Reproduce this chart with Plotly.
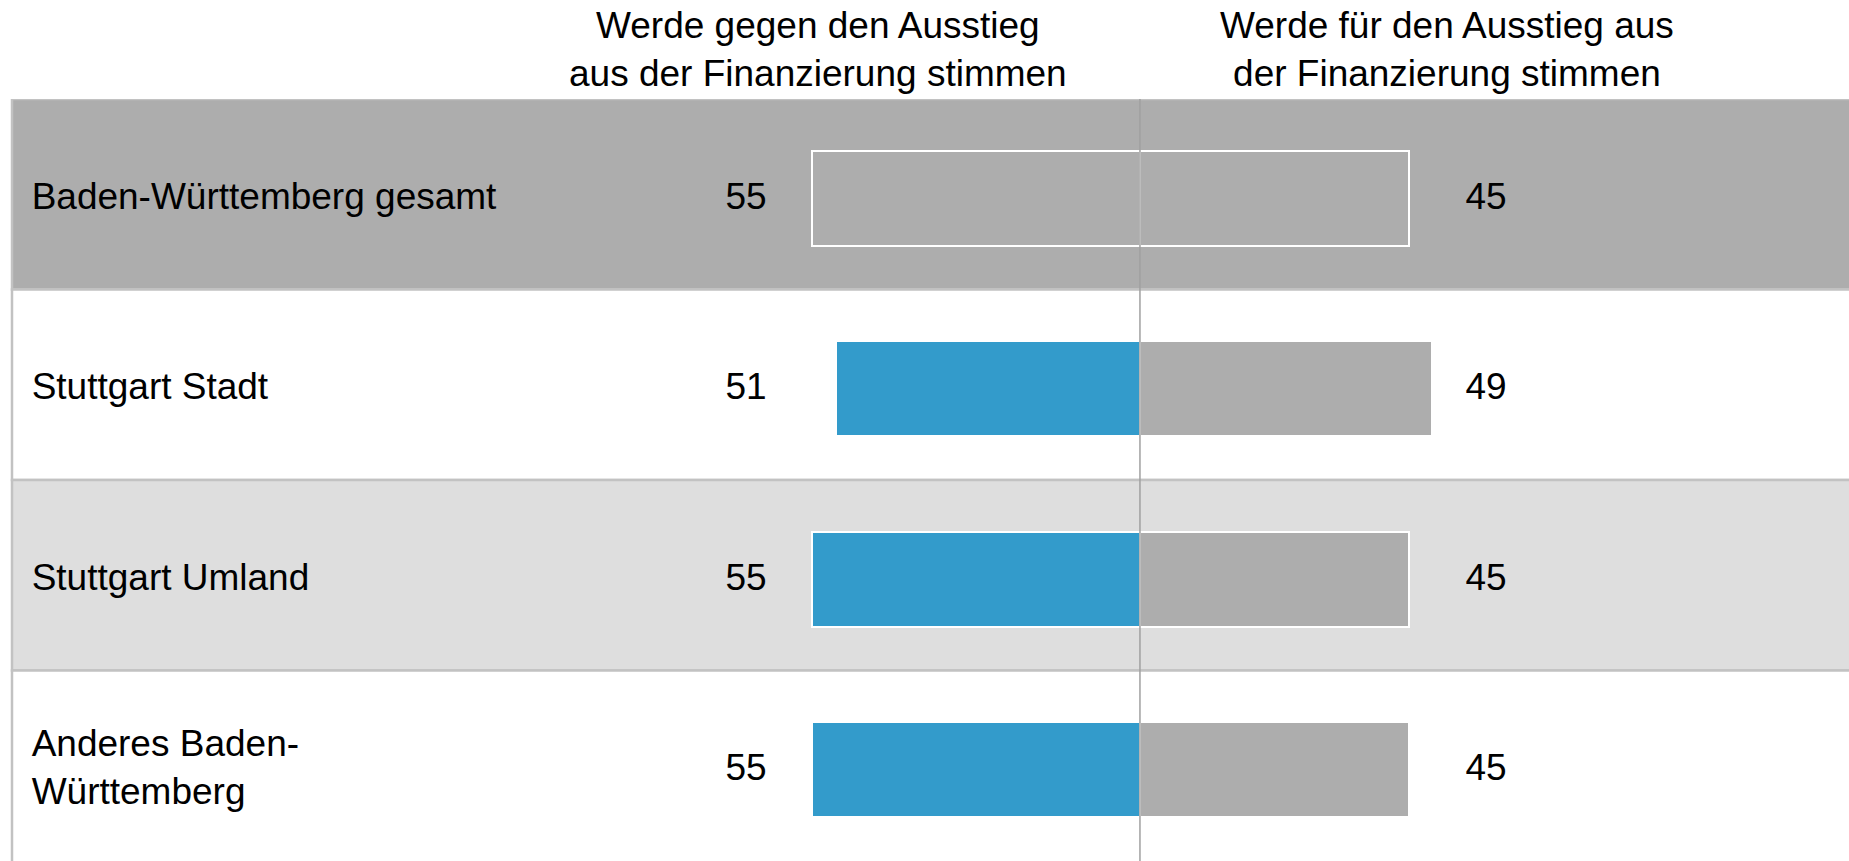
import plotly.graph_objects as go

# ---- data ----
categories = ["Baden-Württemberg gesamt", "Stuttgart Stadt", "Stuttgart Umland", "Anderes Baden-Württemberg"]
category_labels = ["Baden-Württemberg gesamt", "Stuttgart Stadt", "Stuttgart Umland", "Anderes Baden-<br>Württemberg"]
gegen = [55, 51, 55, 55]   # Werde gegen den Ausstieg ...
fuer = [45, 49, 45, 45]    # Werde für den Ausstieg ...
series_titles = ["Werde gegen den Ausstieg<br>aus der Finanzierung stimmen",
                 "Werde für den Ausstieg aus<br>der Finanzierung stimmen"]

# ---- styles ----
BLUE = "#339bcb"
GRAY = "#adadad"
BAND_COLORS = ["#adadad", "#ffffff", "#dedede", "#ffffff"]
BORDER = "#c2c2c2"
CENTER = "#a0a0a0"
FONT = "Liberation Sans, Arial, sans-serif"
FS = 37
W, H = 1849, 861
TOP = 99
ROW_PX = (H - TOP) / 4.0
BAR_W = 0.5
BAR_SHIFT = 4 / ROW_PX      # bars sit slightly below row centre
TEXT_SHIFT = 5 / ROW_PX     # text sits slightly below row centre

ypos = list(range(len(categories)))
ytext = [p + TEXT_SHIFT for p in ypos]
left_colors = [GRAY] + [BLUE] * (len(categories) - 1)

fig = go.Figure()
fig.add_trace(go.Bar(
    y=ypos, x=[-v for v in gegen], base=0, orientation="h", width=BAR_W,
    offset=-BAR_W / 2 + BAR_SHIFT,
    marker=dict(color=left_colors, line=dict(color="white", width=2)),
    name=series_titles[0], hoverinfo="skip", showlegend=False))
fig.add_trace(go.Bar(
    y=ypos, x=fuer, base=0, orientation="h", width=BAR_W,
    offset=-BAR_W / 2 + BAR_SHIFT,
    marker=dict(color=GRAY, line=dict(color="white", width=2)),
    name=series_titles[1], hoverinfo="skip", showlegend=False))

# value labels
fig.add_trace(go.Scatter(
    y=ytext, x=[-66] * len(gegen), mode="text", text=[str(v) for v in gegen],
    textposition="middle center", textfont=dict(family=FONT, size=FS, color="black"),
    hoverinfo="skip", showlegend=False))
fig.add_trace(go.Scatter(
    y=ytext, x=[58] * len(fuer), mode="text", text=[str(v) for v in fuer],
    textposition="middle center", textfont=dict(family=FONT, size=FS, color="black"),
    hoverinfo="skip", showlegend=False))

# category labels
fig.add_trace(go.Scatter(
    y=ytext, x=[-185.7] * len(categories), mode="text", text=category_labels,
    textposition="middle right", textfont=dict(family=FONT, size=FS, color="black"),
    hoverinfo="skip", showlegend=False))

shapes = []
for i, c in enumerate(BAND_COLORS):
    shapes.append(dict(type="rect", xref="paper", yref="y", x0=12 / W, x1=1.02,
                       y0=i - 0.5, y1=(i + 0.5) if i < len(BAND_COLORS) - 1 else i + 0.56,
                       fillcolor=c, line=dict(color=BORDER, width=2.5), layer="below"))
shapes.append(dict(type="line", xref="x", yref="paper", x0=0, x1=0, y0=0, y1=1,
                   line=dict(color=CENTER, width=1.5), layer="above"))

plot_h = H - TOP
annotations = []
for title, xc in zip(series_titles, [818, 1447]):
    annotations.append(dict(text=title, xref="paper", yref="paper", x=xc / W,
                            y=(H - 49.5) / plot_h, xanchor="center", yanchor="middle",
                            showarrow=False, align="center",
                            font=dict(family=FONT, size=FS, color="black")))

fig.update_layout(
    width=W, height=H, autosize=False,
    margin=dict(l=0, r=0, t=TOP, b=0, pad=0),
    paper_bgcolor="white", plot_bgcolor="white",
    barmode="overlay", bargap=0,
    xaxis=dict(range=[-191, 118.8], visible=False, fixedrange=True),
    yaxis=dict(range=[3.5, -0.5], visible=False, fixedrange=True),
    shapes=shapes, annotations=annotations,
    font=dict(family=FONT, size=FS, color="black"),
)

fig.write_html("out.html", post_script="document.body.style.margin='0';",
               config={"displayModeBar": False})
